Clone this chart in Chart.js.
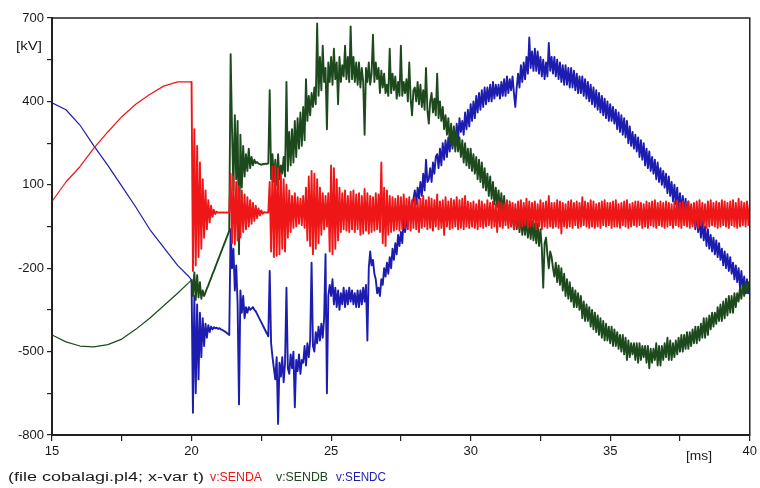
<!DOCTYPE html>
<html><head><meta charset="utf-8">
<script src="https://cdn.jsdelivr.net/npm/chart.js@4.4.1/dist/chart.umd.min.js"></script>
<style>html,body{margin:0;padding:0;background:#fff}canvas{display:block}</style>
</head><body>
<canvas id="c" width="760" height="488"></canvas>
<script>
// time axis [ms]
const times = [15,15.5,16,16.5,17,17.5,18,18.5,19,19.5,19.9,
20,20.05,20.1,20.15,20.2,20.25,20.3,20.35,20.4,20.45,20.5,20.55,20.6,20.65,20.7,20.75,20.8,20.85,20.9,20.95,
21,21.05,21.1,21.15,21.2,21.25,21.3,21.35,21.4,21.45,21.5,21.55,21.6,21.65,21.7,21.75,21.8,21.85,21.9,21.95,
22,22.05,22.1,22.15,22.2,22.25,22.3,22.35,22.4,22.45,22.5,22.55,22.6,22.65,22.7,22.75,22.8,22.85,22.9,22.95,
23,23.05,23.1,23.15,23.2,23.25,23.3,23.35,23.4,23.45,23.5,23.55,23.6,23.65,23.7,23.75,23.8,23.85,23.9,23.95,
24,24.05,24.1,24.15,24.2,24.25,24.3,24.35,24.4,24.45,24.5,24.55,24.6,24.65,24.7,24.75,24.8,24.85,24.9,24.95,
25,25.05,25.1,25.15,25.2,25.25,25.3,25.35,25.4,25.45,25.5,25.55,25.6,25.65,25.7,25.75,25.8,25.85,25.9,25.95,
26,26.05,26.1,26.15,26.2,26.25,26.3,26.35,26.4,26.45,26.5,26.55,26.6,26.65,26.7,26.75,26.8,26.85,26.9,26.95,
27,27.05,27.1,27.15,27.2,27.25,27.3,27.35,27.4,27.45,27.5,27.55,27.6,27.65,27.7,27.75,27.8,27.85,27.9,27.95,
28,28.05,28.1,28.15,28.2,28.25,28.3,28.35,28.4,28.45,28.5,28.55,28.6,28.65,28.7,28.75,28.8,28.85,28.9,28.95,
29,29.05,29.1,29.15,29.2,29.25,29.3,29.35,29.4,29.45,29.5,29.55,29.6,29.65,29.7,29.75,29.8,29.85,29.9,29.95,
30,30.05,30.1,30.15,30.2,30.25,30.3,30.35,30.4,30.45,30.5,30.55,30.6,30.65,30.7,30.75,30.8,30.85,30.9,30.95,
31,31.05,31.1,31.15,31.2,31.25,31.3,31.35,31.4,31.45,31.5,31.55,31.6,31.65,31.7,31.75,31.8,31.85,31.9,31.95,
32,32.05,32.1,32.15,32.2,32.25,32.3,32.35,32.4,32.45,32.5,32.55,32.6,32.65,32.7,32.75,32.8,32.85,32.9,32.95,
33,33.05,33.1,33.15,33.2,33.25,33.3,33.35,33.4,33.45,33.5,33.55,33.6,33.65,33.7,33.75,33.8,33.85,33.9,33.95,
34,34.05,34.1,34.15,34.2,34.25,34.3,34.35,34.4,34.45,34.5,34.55,34.6,34.65,34.7,34.75,34.8,34.85,34.9,34.95,
35,35.05,35.1,35.15,35.2,35.25,35.3,35.35,35.4,35.45,35.5,35.55,35.6,35.65,35.7,35.75,35.8,35.85,35.9,35.95,
36,36.05,36.1,36.15,36.2,36.25,36.3,36.35,36.4,36.45,36.5,36.55,36.6,36.65,36.7,36.75,36.8,36.85,36.9,36.95,
37,37.05,37.1,37.15,37.2,37.25,37.3,37.35,37.4,37.45,37.5,37.55,37.6,37.65,37.7,37.75,37.8,37.85,37.9,37.95,
38,38.05,38.1,38.15,38.2,38.25,38.3,38.35,38.4,38.45,38.5,38.55,38.6,38.65,38.7,38.75,38.8,38.85,38.9,38.95,
39,39.05,39.1,39.15,39.2,39.25,39.3,39.35,39.4,39.45,39.5,39.55,39.6,39.65,39.7,39.75,39.8,39.85,39.9,39.95,
40];

// v:SENDA [kV]
const sendA = [40,110,165,232,290,345,390,425,455,470,470,
470,-210,300,-190,240,-160,180,-130,120,-90,80,-60,45,-35,25,-15,10,-5,3,0,
0,1,0,1,0,1,0,1,140,-110,130,-115,110,-100,95,-90,80,-70,65,-60,
55,-50,45,-40,35,-30,25,-20,15,-10,8,-4,2,0,1,0,110,-140,165,-160,
170,-155,160,-150,140,-130,120,-140,100,-90,80,-70,60,-55,70,-50,55,-40,50,-45,
60,-55,90,-100,130,-120,150,-150,140,-130,120,-110,90,-80,70,-60,60,-50,70,-140,
170,-150,160,-130,120,-100,90,-70,70,-60,80,-65,60,-70,75,-60,80,-70,65,-60,
70,-80,60,-75,85,-65,70,-75,60,-70,55,-65,70,-60,65,-70,180,-110,90,-120,
80,-80,60,-70,55,-65,50,-60,60,-65,55,-60,65,-55,50,-60,55,-65,45,-55,
55,-60,45,-70,50,-55,60,-50,45,-60,55,-55,50,-65,45,-50,65,-60,40,-55,
45,-80,55,-50,40,-60,50,-55,45,-50,55,-60,45,-55,50,-60,60,-50,40,-55,
35,-50,40,-55,30,-60,45,-50,40,-55,30,-50,45,-45,35,-55,40,-50,30,-70,
40,-50,35,-55,30,-45,45,-55,40,-50,35,-60,30,-50,40,-55,45,-50,35,-45,
50,-55,40,-50,35,-45,40,-60,30,-50,45,-60,35,-50,40,-55,60,-50,35,-55,
35,-50,45,-55,40,-75,35,-50,30,-55,40,-50,45,-55,35,-45,40,-55,35,-50,
55,-45,40,-50,35,-55,45,-50,40,-55,30,-50,35,-55,40,-45,45,-50,35,-45,
35,-55,40,-50,45,-50,30,-55,35,-45,40,-50,45,-55,30,-50,35,-45,40,-50,
40,-45,35,-55,30,-50,40,-55,35,-45,40,-50,45,-55,35,-45,40,-50,35,-55,
40,-50,35,-45,30,-55,40,-45,45,-50,35,-55,40,-45,35,-50,40,-55,30,-50,
35,-50,40,-55,45,-45,35,-50,30,-55,40,-50,45,-45,35,-50,40,-55,35,-50,
45,-45,40,-50,35,-55,40,-45,45,-50,35,-55,50,-50,40,-45,35,-50,40,-45,
30];

// v:SENDB [kV]
const sendB = [-440,-465,-480,-483,-475,-455,-420,-380,-335,-290,-252,
-242,-300,-215,-314,-225,-305,-250,-310,-280,-300,-287,-273,-262,-248,-236,-221,-210,-196,-183,-170,
-157,-144,-131,-118,-105,-92,-79,-66,570,300,80,350,120,330,-150,280,90,240,130,210,
150,230,160,200,170,190,178,182,176,174,172,175,174,176,175,177,440,120,210,110,
190,100,210,120,170,140,200,130,470,150,290,170,300,180,330,200,340,230,360,240,
380,260,480,330,420,350,430,380,450,390,680,420,560,440,600,470,520,300,540,470,
560,460,590,480,540,390,560,470,530,490,600,480,560,470,670,480,560,470,540,460,
540,450,520,470,280,520,470,540,460,500,640,470,540,480,520,430,510,450,500,430,
460,420,590,430,500,440,490,410,470,420,600,420,470,430,480,400,540,410,350,440,
450,400,470,390,460,380,440,370,520,370,320,400,430,360,410,350,500,340,400,330,
380,300,350,280,340,250,320,240,310,220,290,220,270,200,260,180,250,170,230,160,
230,150,210,140,200,120,190,110,180,90,160,80,140,60,130,50,110,30,90,20,
80,0,70,-10,60,-30,40,-40,30,-50,20,-60,10,-60,0,-70,-10,-80,-20,-80,
-20,-90,-30,-95,-30,-100,-40,-110,-40,-120,-60,-130,-270,-110,-90,-150,-200,-140,-160,-200,
-230,-180,-250,-190,-260,-200,-280,-220,-300,-240,-310,-250,-320,-270,-340,-280,-340,-290,-350,-300,
-380,-320,-390,-330,-390,-340,-410,-350,-420,-360,-430,-370,-440,-380,-450,-390,-460,-400,-460,-410,
-470,-410,-480,-420,-480,-430,-490,-440,-500,-440,-510,-450,-530,-460,-520,-470,-510,-470,-530,-470,
-540,-470,-530,-480,-520,-480,-540,-480,-560,-490,-540,-490,-530,-470,-550,-480,-550,-480,-530,-470,
-520,-450,-530,-460,-530,-470,-520,-460,-510,-450,-500,-440,-500,-440,-490,-430,-490,-430,-480,-420,
-470,-410,-470,-410,-460,-400,-450,-380,-450,-380,-440,-370,-420,-360,-410,-360,-400,-340,-390,-330,
-390,-320,-380,-310,-370,-300,-360,-300,-360,-290,-340,-290,-320,-270,-310,-260,-300,-250,-290,-250,
-280];

// v:SENDC [kV]
const sendC = [395,370,315,240,170,95,20,-60,-125,-190,-230,
-242,-720,-300,-650,-330,-600,-360,-520,-380,-480,-400,-450,-405,-430,-410,-420,-412,-416,-414,-418,
-416,-420,-422,-425,-428,-432,-436,-440,-60,-200,-130,-280,-190,-330,-690,-280,-360,-300,-380,-340,
-360,-340,-350,-345,-340,-350,-355,-365,-375,-385,-395,-405,-415,-425,-435,-445,-210,-470,-520,-560,
-600,-520,-760,-540,-590,-520,-610,-540,-270,-560,-580,-510,-560,-500,-700,-530,-570,-510,-580,-530,
-540,-480,-550,-470,-520,-460,-180,-480,-500,-430,-470,-410,-460,-400,-450,-380,-150,-650,-300,-260,
-300,-240,-330,-270,-340,-280,-350,-290,-330,-270,-340,-280,-330,-270,-320,-280,-330,-290,-340,-280,
-340,-280,-330,-270,-320,-260,-460,-200,-140,-190,-170,-220,-240,-290,-270,-300,-240,-260,-200,-230,
-180,-220,-160,-200,-130,-170,-110,-150,-80,-120,-70,-110,-20,-70,-40,10,40,-10,20,50,
80,30,90,50,110,60,140,80,190,110,120,160,110,180,140,200,210,160,230,170,
250,190,260,200,270,220,290,230,300,250,320,260,340,290,330,280,360,300,370,310,
390,330,400,340,420,360,430,370,440,380,450,390,450,400,460,400,470,410,460,420,
460,410,470,420,480,420,490,430,480,440,490,430,380,450,500,450,530,470,540,480,
560,500,630,520,580,510,590,510,580,500,560,490,550,480,540,490,610,510,560,500,
560,490,550,480,540,470,530,460,530,460,520,450,520,450,510,440,500,430,490,430,
490,420,480,410,470,400,460,390,450,380,440,370,430,360,420,350,410,340,400,330,
390,330,380,320,370,300,360,290,350,280,340,270,330,250,310,240,290,230,280,220,
270,200,260,190,250,170,230,160,220,150,200,140,190,120,180,110,160,100,150,90,
140,70,130,60,110,40,100,30,90,10,70,0,60,-10,50,-20,40,-30,20,-40,
10,-60,0,-70,-20,-90,-30,-100,-50,-120,-60,-130,-80,-140,-90,-150,-100,-160,-110,-170,
-130,-190,-140,-200,-150,-210,-160,-220,-180,-240,-190,-250,-200,-270,-210,-280,-230,-290,-240,-290,
-250];

const seriesNames = ['v:SENDA','v:SENDB','v:SENDC'];
const seriesColors = ['#ee1616','#1d4a1d','#1c1cb0'];
const yTickLabels = [-800,-500,-200,100,400,700];
const xTickLabels = [15,20,25,30,35,40];

const toPts = arr => times.map((t,i)=>({x:t,y:arr[i]}));
const FONT = '"Liberation Sans", Arial, sans-serif';

function stretchText(ctx, text, x, y, w){
  const m = ctx.measureText(text).width;
  ctx.save();
  ctx.translate(x, y);
  ctx.scale(w / m, 1);
  ctx.fillText(text, 0, 0);
  ctx.restore();
}

const decor = {
  id: 'decor',
  afterDraw(chart){
    const {ctx, chartArea:a} = chart;
    ctx.save();
    ctx.strokeStyle = '#222'; ctx.lineWidth = 1.5;
    ctx.strokeRect(a.left, a.top, a.right - a.left, a.bottom - a.top);
    ctx.textBaseline = 'middle'; ctx.textAlign = 'left';
    ctx.fillStyle = '#1a1a1a';
    ctx.font = '12px ' + FONT;
    stretchText(ctx, '[kV]', 16, 47, 26);
    stretchText(ctx, '[ms]', 686, 457, 26);
    stretchText(ctx, '(file cobalagi.pl4; x-var t)', 8, 478, 196);
    const lx = [210, 276, 336], lw = [52, 52, 50];
    seriesNames.forEach((n,i)=>{
      ctx.fillStyle = seriesColors[i];
      stretchText(ctx, n, lx[i], 478, lw[i]);
    });
    ctx.restore();
  }
};

const mk = (label, arr, color, order) => ({
  label, data: toPts(arr), borderColor: color, backgroundColor: color,
  borderWidth: 1.9, pointRadius: 0, tension: 0, order,
  borderJoinStyle: 'round', borderCapStyle: 'round',
  segment: { borderWidth: c => c.p1.parsed.x <= 20 ? 1.2 : 1.9 }
});

new Chart(document.getElementById('c'), {
  type: 'line',
  data: { datasets: [
    mk(seriesNames[0], sendA, seriesColors[0], 0),
    mk(seriesNames[1], sendB, seriesColors[1], 1),
    mk(seriesNames[2], sendC, seriesColors[2], 2)
  ]},
  options: {
    responsive: false, animation: false, devicePixelRatio: 1,
    layout: { padding: { top: 18, right: 10, left: 0, bottom: 0 }, autoPadding: false },
    plugins: { legend: { display: false }, tooltip: { enabled: false } },
    scales: {
      x: {
        type: 'linear', min: 15, max: 40,
        afterFit: s => { s.height = 53; },
        ticks: { stepSize: 2.5, autoSkip: false, maxRotation: 0, padding: 3,
          color: '#1a1a1a', font: { size: 13, family: FONT },
          callback: v => xTickLabels.includes(v) ? String(v) : '' },
        grid: { drawOnChartArea: false, drawTicks: true, tickLength: 6, color: '#222', lineWidth: 1.2 },
        border: { display: true, color: '#222', width: 2 }
      },
      y: {
        min: -800, max: 700,
        afterFit: s => { s.width = 52; },
        ticks: { stepSize: 150, autoSkip: false, padding: 3,
          color: '#1a1a1a', font: { size: 13, family: FONT },
          callback: v => yTickLabels.includes(v) ? String(v) : '' },
        grid: { drawOnChartArea: false, drawTicks: true, tickLength: 5, color: '#222', lineWidth: 1.2 },
        border: { display: true, color: '#222', width: 2 }
      }
    }
  },
  plugins: [decor]
});
</script>
</body></html>
